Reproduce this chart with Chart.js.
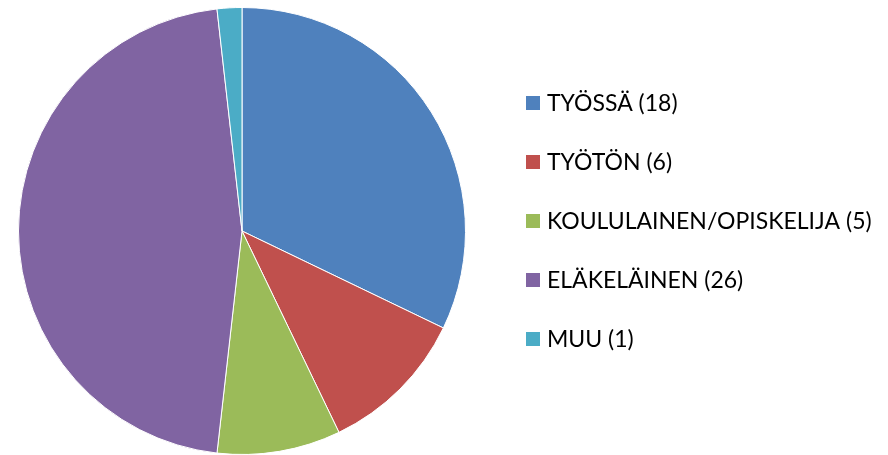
<!DOCTYPE html>
<html>
<head>
<meta charset="utf-8">
<script src="https://cdn.jsdelivr.net/npm/chart.js@4.4.0/dist/chart.umd.min.js"></script>
<style>
	html, body { margin: 0; padding: 0; background: #ffffff; }
	#wrap { position: relative; width: 888px; height: 455px; }
</style>
</head>
<body>
<div id="wrap"><canvas id="chart" width="888" height="455"></canvas></div>
<script>
const labels = ["TYÖSSÄ (18)", "TYÖTÖN (6)", "KOULULAINEN/OPISKELIJA (5)", "ELÄKELÄINEN (26)", "MUU (1)"]
const values = [18, 6, 5, 26, 1]
const colors = ["#4F81BD", "#C0504D", "#9BBB59", "#8064A2", "#4BACC6"]

// Legend drawn on the canvas, Excel style
const side_legend = {
	id: "side_legend",
	afterDraw(chart) {
		const ctx = chart.ctx
		ctx.save()
		ctx.font = "23px Lato"
		ctx.textBaseline = "alphabetic"
		labels.forEach((label, i) => {
			const y = 103 + i * 59
			ctx.fillStyle = colors[i]
			ctx.fillRect(526, y - 7, 14, 14)
			ctx.fillStyle = "#000000"
			ctx.fillText(label, 547, y + 8)
		})
		ctx.restore()
	}
}

new Chart(document.getElementById("chart"), {
	type: "pie",
	data: {
		labels,
		datasets: [{
			data: values,
			backgroundColor: colors,
			borderColor: "#ffffff",
			borderWidth: 1
		}]
	},
	options: {
		responsive: false,
		animation: false,
		layout: {
			padding: { left: 18, right: 422, top: 7, bottom: 0 }
		},
		plugins: {
			legend: { display: false },
			tooltip: { enabled: false }
		}
	},
	plugins: [side_legend]
})
</script>
</body>
</html>
